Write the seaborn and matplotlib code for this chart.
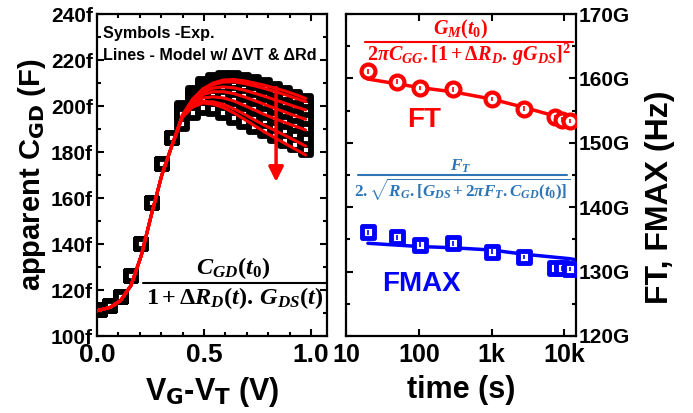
import numpy as np
import pandas as pd
import matplotlib
matplotlib.use("Agg")
import matplotlib.pyplot as plt
from matplotlib.lines import Line2D
from matplotlib.markers import MarkerStyle
from matplotlib.ticker import MultipleLocator, FixedLocator, FixedFormatter, LogLocator, NullFormatter
import seaborn as sns

# ---------------- data ----------------
# Left panel: apparent CGD vs VG-VT (7 stress times)
vg_exp = [0.015, 0.063, 0.111, 0.159, 0.207, 0.255, 0.303, 0.351,
          0.399, 0.447, 0.495, 0.543, 0.591, 0.639, 0.687, 0.735,
          0.783, 0.831, 0.879, 0.927, 0.975]
cgd_rise_exp = [111.5, 113.0, 117.0, 126.0, 140.0, 158.0, 175.0, 186.0]
cgd_tail_exp = [
    [199.0, 205.5, 209.5, 211.5, 212.3, 212.2, 211.5, 210.3, 209.0, 207.5, 205.8, 204.0, 202.0],
    [198.5, 204.5, 208.5, 210.5, 211.0, 210.8, 210.0, 208.8, 207.4, 205.8, 204.2, 202.4, 200.5],
    [198.0, 204.0, 207.5, 209.0, 209.2, 208.5, 207.2, 205.6, 203.9, 202.2, 200.6, 199.0, 197.5],
    [197.5, 203.0, 206.0, 207.0, 206.8, 205.8, 204.2, 202.5, 200.6, 198.8, 197.0, 195.5, 194.0],
    [197.0, 202.0, 204.0, 204.5, 203.8, 202.4, 200.6, 198.6, 196.6, 194.7, 193.0, 191.4, 190.0],
    [196.5, 200.5, 202.0, 201.5, 200.3, 198.6, 196.6, 194.5, 192.4, 190.4, 188.6, 187.0, 185.5],
    [192.0, 197.0, 199.0, 198.5, 197.0, 195.0, 193.0, 191.0, 189.0, 187.0, 185.0, 183.0, 181.0],
]
vg_model = [0.0, 0.015, 0.063, 0.111, 0.159, 0.207, 0.255, 0.303, 0.351,
            0.399, 0.447, 0.495, 0.543, 0.591, 0.639, 0.687, 0.735,
            0.783, 0.831, 0.879, 0.927, 0.975]
cgd_rise_model = [111.0, 111.3, 112.5, 115.5, 122.0, 135.0, 153.0, 170.0, 183.0]
cgd_tail_model = [
    [196.0, 203.0, 207.5, 210.0, 211.3, 211.5, 211.0, 210.0, 209.0, 207.8, 206.5, 205.0, 203.3],
    [196.0, 202.8, 207.0, 209.3, 210.4, 210.5, 209.8, 208.8, 207.6, 206.3, 204.9, 203.4, 201.9],
    [195.8, 202.3, 206.0, 207.8, 208.3, 207.9, 206.9, 205.6, 204.2, 202.7, 201.2, 199.7, 198.3],
    [195.6, 201.8, 205.0, 206.2, 206.2, 205.4, 204.0, 202.4, 200.7, 199.0, 197.3, 195.7, 194.2],
    [195.4, 201.0, 203.5, 204.0, 203.5, 202.2, 200.3, 198.3, 196.3, 194.5, 192.8, 191.2, 189.6],
    [195.2, 200.2, 202.0, 201.8, 200.7, 198.8, 196.5, 194.0, 191.6, 189.4, 187.2, 184.9, 182.6],
    [195.0, 199.5, 201.3, 200.8, 199.3, 197.0, 194.3, 191.5, 188.7, 186.2, 183.7, 181.2, 178.7],
]

# Right panel: FT and FMAX vs stress time
t_exp = [20, 51, 103, 300, 1000, 2800, 7500, 9400, 12000]
ft_exp = [161.1, 159.5, 158.5, 158.3, 156.8, 155.3, 154.0, 153.6, 153.4]
fmax_exp = [136.1, 135.3, 134.2, 134.4, 133.1, 132.3, 130.6, 130.5, 130.4]
t_model = [20, 100, 300, 1000, 2800, 12000, 15000]
ft_model = [159.9, 158.6, 157.9, 156.8, 155.5, 153.5, 153.0]
fmax_model = [134.4, 133.9, 133.7, 133.35, 132.7, 132.0, 131.8]
err_bar = 0.35

# tick labels
cgd_ticks = [100, 120, 140, 160, 180, 200, 220, 240]
cgd_ticklabels = ["100f", "120f", "140f", "160f", "180f", "200f", "220f", "240f"]
vg_ticks = [0.0, 0.5, 1.0]
vg_ticklabels = ["0.0", "0.5", "1.0"]
t_ticks = [10, 100, 1000, 10000]
t_ticklabels = ["10", "100", "1k", "10k"]
f_ticks = [120, 130, 140, 150, 160, 170]
f_ticklabels = ["120G", "130G", "140G", "150G", "160G", "170G"]

# ---------------- build tables ----------------
rows = []
for i, tail in enumerate(cgd_tail_exp):
    for x, y in zip(vg_exp, cgd_rise_exp + tail):
        rows.append({"curve": i, "vg": x, "cgd": y})
df_exp = pd.DataFrame(rows)
rows = []
for i, tail in enumerate(cgd_tail_model):
    for x, y in zip(vg_model, cgd_rise_model + tail):
        rows.append({"curve": i, "vg": x, "cgd": y})
df_model = pd.DataFrame(rows)
df_r = pd.DataFrame({"t": t_exp, "ft": ft_exp, "fmax": fmax_exp})
df_rm = pd.DataFrame({"t": t_model, "ft": ft_model, "fmax": fmax_model})

# ---------------- style ----------------
sns.set_style("ticks")
plt.rcParams["font.family"] = ["Liberation Sans", "DejaVu Sans"]
plt.rcParams["font.weight"] = "bold"
plt.rcParams["axes.linewidth"] = 1.6
plt.rcParams["axes.edgecolor"] = "black"
plt.rcParams["text.color"] = "black"
plt.rcParams["axes.labelcolor"] = "black"
plt.rcParams["xtick.color"] = "black"
plt.rcParams["ytick.color"] = "black"
plt.rcParams["mathtext.fontset"] = "custom"
plt.rcParams["mathtext.rm"] = "Liberation Serif:bold"
plt.rcParams["mathtext.it"] = "Liberation Serif:italic:bold"
plt.rcParams["mathtext.bf"] = "Liberation Serif:bold"

RED = "#FF0000"
BLUE = "#0000FF"
FBLUE = "#2E75B6"

fig = plt.figure(figsize=(6.93, 4.13), dpi=100)
ax1 = fig.add_axes([97 / 693, 1 - 336 / 413, 230 / 693, 322 / 413])
ax2 = fig.add_axes([346 / 693, 1 - 336 / 413, 230 / 693, 322 / 413])

# ---------------- left panel ----------------
sq = MarkerStyle("s", joinstyle="round")
sns.scatterplot(data=df_exp, x="vg", y="cgd", ax=ax1, marker=sq, s=58,
                facecolor="white", edgecolor="black", linewidth=4.2,
                legend=False, zorder=2)
sns.lineplot(data=df_model, x="vg", y="cgd", units="curve", estimator=None,
             sort=False, ax=ax1, color=RED, lw=2.2, legend=False, zorder=3)
ax1.set_xlim(0, 1.075)
ax1.set_ylim(100, 240)
ax1.xaxis.set_major_locator(FixedLocator(vg_ticks))
ax1.xaxis.set_major_formatter(FixedFormatter(vg_ticklabels))
ax1.xaxis.set_minor_locator(MultipleLocator(0.1))
ax1.yaxis.set_major_locator(FixedLocator(cgd_ticks))
ax1.yaxis.set_major_formatter(FixedFormatter(cgd_ticklabels))
ax1.yaxis.set_minor_locator(MultipleLocator(10))
ax1.tick_params(which="both", direction="in", top=True, right=True, width=1.5)
ax1.tick_params(which="major", length=5)
ax1.tick_params(which="minor", length=3)
ax1.tick_params(axis="y", labelsize=15, pad=3)
ax1.tick_params(axis="x", labelsize=19, pad=5)
ax1.set_xlabel("V$_\\mathsf{G}$-V$_\\mathsf{T}$ (V)", fontsize=22, fontweight="bold", labelpad=6)
ax1.set_ylabel("apparent C$_\\mathsf{GD}$ (F)", fontsize=21, fontweight="bold", labelpad=2)

ax1.annotate("", xy=(0.837, 167), xytext=(0.837, 208),
             arrowprops=dict(arrowstyle="-|>", color=RED, lw=2.5,
                             mutation_scale=22, shrinkA=0, shrinkB=0), zorder=4)

ax1.text(0.025, 0.94, "Symbols -Exp.", transform=ax1.transAxes, fontsize=11.6,
         fontweight="bold", ha="left", va="center")
ax1.text(0.025, 0.87, "Lines - Model w/ \u0394VT & \u0394Rd", transform=ax1.transAxes,
         fontsize=11.6, fontweight="bold", ha="left", va="center")

# formula left
ax1.text(0.59, 0.21, r"$C_{GD}(t_0)$", transform=ax1.transAxes, fontsize=17.5,
         ha="center", va="center")
ax1.add_line(Line2D([0.2, 1.0], [0.164, 0.164], transform=ax1.transAxes,
                    color="black", lw=1.5, clip_on=False))
ax1.text(0.6, 0.118, r"$1 + \Delta R_D(t).\,G_{DS}(t)$", transform=ax1.transAxes,
         fontsize=17.5, ha="center", va="center")

# ---------------- right panel ----------------
sns.lineplot(data=df_rm, x="t", y="ft", ax=ax2, color=RED, lw=2.5, legend=False, zorder=2)
sns.lineplot(data=df_rm, x="t", y="fmax", ax=ax2, color=BLUE, lw=2.5, legend=False, zorder=2)
sns.scatterplot(data=df_r, x="t", y="ft", ax=ax2, marker="o", s=100,
                facecolor="white", edgecolor=RED, linewidth=3.0, legend=False, zorder=3)
sns.scatterplot(data=df_r, x="t", y="fmax", ax=ax2, marker="s", s=64,
                facecolor="white", edgecolor=BLUE, linewidth=3.5, legend=False, zorder=3)
ax2.errorbar(df_r["t"], df_r["ft"], yerr=err_bar, fmt="none", ecolor=RED, elinewidth=1.2, zorder=4)
ax2.errorbar(df_r["t"], df_r["fmax"], yerr=err_bar, fmt="none", ecolor=BLUE, elinewidth=1.2, zorder=4)
ax2.set_xscale("log")
ax2.set_xlim(10, 14500)
ax2.set_ylim(120, 170)
ax2.xaxis.set_major_locator(FixedLocator(t_ticks))
ax2.xaxis.set_major_formatter(FixedFormatter(t_ticklabels))
ax2.xaxis.set_minor_locator(LogLocator(base=10, subs=np.arange(2, 10)))
ax2.xaxis.set_minor_formatter(NullFormatter())
ax2.yaxis.set_major_locator(FixedLocator(f_ticks))
ax2.yaxis.set_major_formatter(FixedFormatter(f_ticklabels))
ax2.yaxis.set_minor_locator(MultipleLocator(5))
ax2.yaxis.tick_right()
ax2.yaxis.set_label_position("right")
ax2.tick_params(which="both", direction="in", top=True, left=True, right=True, width=1.5)
ax2.tick_params(which="major", length=5)
ax2.tick_params(which="minor", length=3)
ax2.tick_params(axis="y", labelsize=15, pad=2)
ax2.tick_params(axis="x", labelsize=18, pad=5)
ax2.set_xlabel("time (s)", fontsize=22, fontweight="bold", labelpad=6)
ax2.set_ylabel("FT, FMAX (Hz)", fontsize=23, fontweight="bold")
ax2.yaxis.set_label_coords(1.30, 0.432)

ax2.text(0.5, 0.952, r"$G_M(t_0)$", transform=ax2.transAxes, fontsize=14.5,
         color=RED, ha="center", va="center")
ax2.add_line(Line2D([0.083, 0.987], [0.913, 0.913], transform=ax2.transAxes,
                    color=RED, lw=1.5))
ax2.text(0.535, 0.873, r"$2\pi C_{GG}.[1 + \Delta R_D.\,gG_{DS}]^2$", transform=ax2.transAxes,
         fontsize=14.5, color=RED, ha="center", va="center")
ax2.text(0.34, 0.67, "FT", transform=ax2.transAxes, fontsize=20, color=RED,
         fontweight="bold", ha="center", va="center")

ax2.text(0.5, 0.527, r"$F_T$", transform=ax2.transAxes, fontsize=12.3,
         color=FBLUE, ha="center", va="center")
ax2.add_line(Line2D([0.05, 0.96], [0.5, 0.5], transform=ax2.transAxes,
                    color=FBLUE, lw=1.5))
ax2.text(0.505, 0.453, r"$2.\sqrt{R_G.[G_{DS} + 2\pi F_T.C_{GD}(t_0)]}$", transform=ax2.transAxes,
         fontsize=12.3, color=FBLUE, ha="center", va="center")
ax2.text(0.33, 0.16, "FMAX", transform=ax2.transAxes, fontsize=20, color=BLUE,
         fontweight="bold", ha="center", va="center")

fig.savefig("out.png", dpi=100)
